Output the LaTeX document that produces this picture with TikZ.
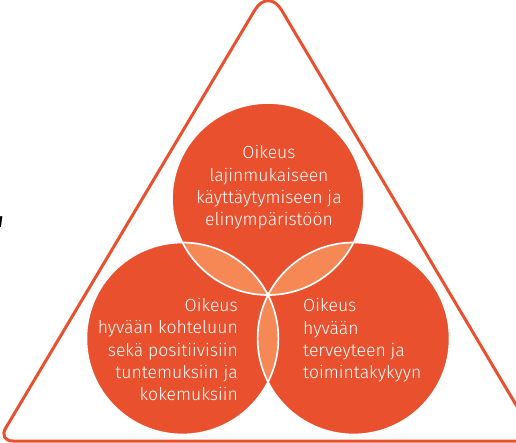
\documentclass[tikz,border=0pt]{standalone}
\usepackage{fontspec}
\setmainfont{Fira Sans Light}
\newfontfamily\markfont{Fira Sans}
\definecolor{mainred}{HTML}{E8502E}
\definecolor{lenscol}{HTML}{F58855}
\begin{document}
\begin{tikzpicture}[x=1pt,y=-1pt,
  ring/.style={draw=white,line width=1.7pt},
  lbl/.style={text=white,inner sep=0pt,font=\fontsize{17.6}{22.4}\selectfont},
  frame/.style={draw=mainred,line width=3pt}]
\useasboundingbox (0,0) rectangle (516,443);
% circle centres
\coordinate (T) at (268,199);
\coordinate (L) at (182.4,338.5);
\coordinate (R) at (353.6,338.5);
% triangle
\coordinate (A) at (268.2,-12.4);
\coordinate (BL) at (-2,441);
\coordinate (BR) at (537.5,441);
\coordinate (ML) at (141.6,200);
\coordinate (MR) at (394.3,200);
\draw[frame, rounded corners=26pt] (ML) -- (A) -- (MR);
\draw[frame, rounded corners=15pt] (ML) -- (BL) -- (BR) -- (MR);
% circles
\fill[mainred] (T) circle[radius=96pt];
\fill[mainred] (L) circle[radius=96pt];
\fill[mainred] (R) circle[radius=96pt];
\begin{scope}
  \clip (T) circle[radius=96pt];
  \fill[lenscol] (L) circle[radius=96pt];
  \fill[lenscol] (R) circle[radius=96pt];
\end{scope}
\begin{scope}
  \clip (L) circle[radius=96pt];
  \fill[lenscol] (R) circle[radius=96pt];
\end{scope}
\draw[ring] (T) circle[radius=96pt];
\draw[ring] (L) circle[radius=96pt];
\draw[ring] (R) circle[radius=96pt];
% texts
\node[lbl, align=center] (t1) at (269,187.5) {Oikeus\\lajinmukaiseen\\käyttäytymiseen ja\\elinympäristöön};
\node[lbl, align=right, anchor=east] (t2) at (238,349.5) {Oikeus\\hyvään kohteluun\\sekä positiivisiin\\tuntemuksiin ja\\kokemuksiin};
\node[lbl, align=left, anchor=west] (t3) at (303,340.5) {Oikeus\\hyvään\\terveyteen ja\\toimintakykyyn};
\node[anchor=base east, inner sep=0pt, font=\fontsize{16}{16}\markfont\bfseries\itshape] (mark) at (3,228) {1};
\end{tikzpicture}
\end{document}
